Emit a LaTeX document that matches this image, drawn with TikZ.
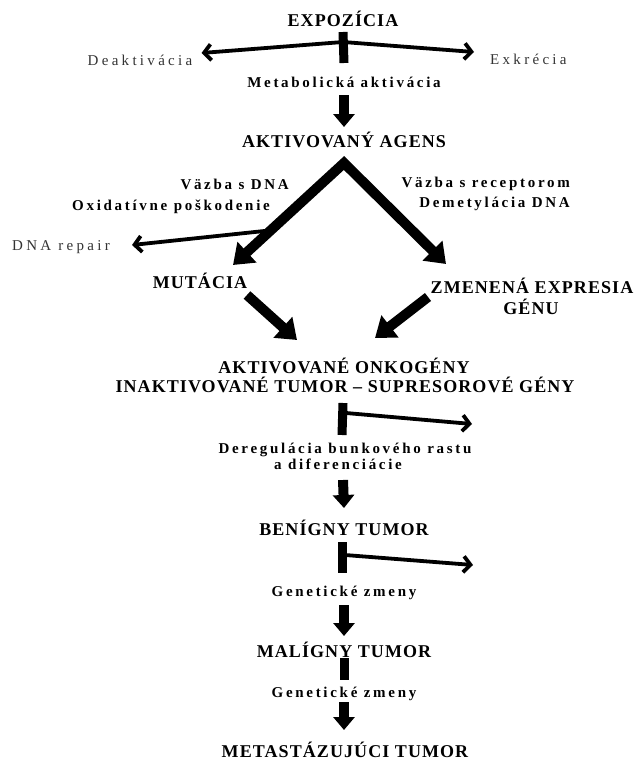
\documentclass[tikz,border=0pt]{standalone}
\usepackage{fontspec}
\setmainfont{Liberation Serif}
\newfontfamily\capsfont[LetterSpace=6]{Liberation Serif}
\newfontfamily\notefont[LetterSpace=18]{Liberation Serif}
\newfontfamily\widefont[LetterSpace=22]{Liberation Serif}
\usetikzlibrary{arrows.meta,calc}

\begin{document}
\begin{tikzpicture}[x=1pt,y=-1pt,
    stage/.style={font=\capsfont\bfseries\fontsize{18}{20}\selectfont, inner sep=0pt, anchor=base},
    note/.style={font=\notefont\bfseries\fontsize{15}{18}\selectfont, inner sep=0pt, anchor=base},
    aside/.style={font=\widefont\fontsize{15}{18}\selectfont, text=black!80, inner sep=0pt, anchor=base},
    fat/.style={line width=10pt, -{Triangle[length=13pt,width=21pt]}},
    wide/.style={line width=10pt, -{Triangle[length=19pt,width=27pt]}},
    barline/.style={line width=9pt},
    side/.style={line width=3.8pt, line cap=round, line join=round, -{Straight Barb[length=7pt,width=16pt]}}]
    \useasboundingbox (0,0) rectangle (638,760);

    \node[stage] (expo) at (343,27) {EXPOZÍCIA};
    \node[note] (meta) at (344,87) {Metabolická aktivácia};
    \node[aside] (deakt) at (140,66) {Deaktivácia};
    \node[aside, anchor=base west] (exkr) at (490,65) {Exkrécia};
    \node[stage] (agens) at (344,147) {AKTIVOVANÝ AGENS};
    \node[note, anchor=base east] (vazba) at (289,189) {Väzba s DNA};
    \node[note, anchor=base east] (oxid) at (270,210) {Oxidatívne poškodenie};
    \node[note, anchor=base east] (recep) at (570,187) {Väzba s receptorom};
    \node[note, anchor=base east] (demet) at (570,207) {Demetylácia DNA};
    \node[aside, anchor=base west] (repair) at (12,250) {DNA repair};
    \node[stage] (mut) at (200,288) {MUTÁCIA};
    \node[stage] (zmen) at (532,293) {ZMENENÁ EXPRESIA};
    \node[stage] (genu) at (531,314) {GÉNU};
    \node[stage] (onko) at (344,373) {AKTIVOVANÉ ONKOGÉNY};
    \node[stage] (inakt) at (345,392) {INAKTIVOVANÉ TUMOR – SUPRESOROVÉ GÉNY};
    \node[note] (dereg) at (345,453) {Deregulácia bunkového rastu};
    \node[note] (difer) at (338,469) {a diferenciácie};
    \node[stage] (benig) at (344,535) {BENÍGNY TUMOR};
    \node[note] (gen1) at (344,596) {Genetické zmeny};
    \node[stage] (malig) at (344,657) {MALÍGNY TUMOR};
    \node[note] (gen2) at (344,697) {Genetické zmeny};
    \node[stage] (metas) at (345,757) {METASTÁZUJÚCI TUMOR};

    \coordinate (split) at ($(expo.base)+(0,15)$);
    \coordinate (apex) at ($(agens.base)+(0,16)$);
    \coordinate (vleft) at ($(mut.base)+(33,-23)$);
    \coordinate (vright) at ($(zmen.base)+(-86,-29)$);
    \coordinate (loss1) at (472,424);
    \coordinate (loss2) at (473,565);

    \draw[barline] ($(expo.base)+(0,5)$) -- ($(meta.base)+(0,-24)$);
    \draw[side] (split) -- ($(deakt.base east)+(9,-13)$);
    \draw[side] (split) -- ($(exkr.base west)+(-16,-13)$);
    \draw[fat] ($(meta.base)+(0,8)$) -- ($(agens.base)+(0,-20)$);

    \draw[side] ($(apex)!0.66!(vleft)$) -- ($(repair.base east)+(22,-5)$);
    \draw[line width=10pt, line join=miter, {Triangle[length=19pt,width=27pt]}-{Triangle[length=19pt,width=27pt]}] (vleft) -- (apex) -- (vright);

    \draw[wide] ($(mut.base)+(47,7)$) -- ($(onko.base)+(-47,-33)$);
    \draw[wide] ($(zmen.base)+(-104,4)$) -- ($(onko.base)+(31,-35)$);

    \draw[barline] ($(inakt.base)+(-2,11)$) -- ($(dereg.base)+(-3,-18)$);
    \draw[side] ($(inakt.base)+(1,21)$) -- (loss1);
    \draw[fat] ($(difer.base)+(5,11)$) -- ($(benig.base)+(0,-27)$);

    \draw[barline] ($(benig.base)+(-2,7)$) -- ($(gen1.base)+(-2,-23)$);
    \draw[side] ($(benig.base)+(1,20)$) -- (loss2);
    \draw[fat] ($(gen1.base)+(0,9)$) -- ($(malig.base)+(0,-21)$);

    \draw[barline] ($(malig.base)+(0,1)$) -- ($(gen2.base)+(0,-17)$);
    \draw[fat] ($(gen2.base)+(0,5)$) -- ($(metas.base)+(-1,-27)$);
\end{tikzpicture}
\end{document}
